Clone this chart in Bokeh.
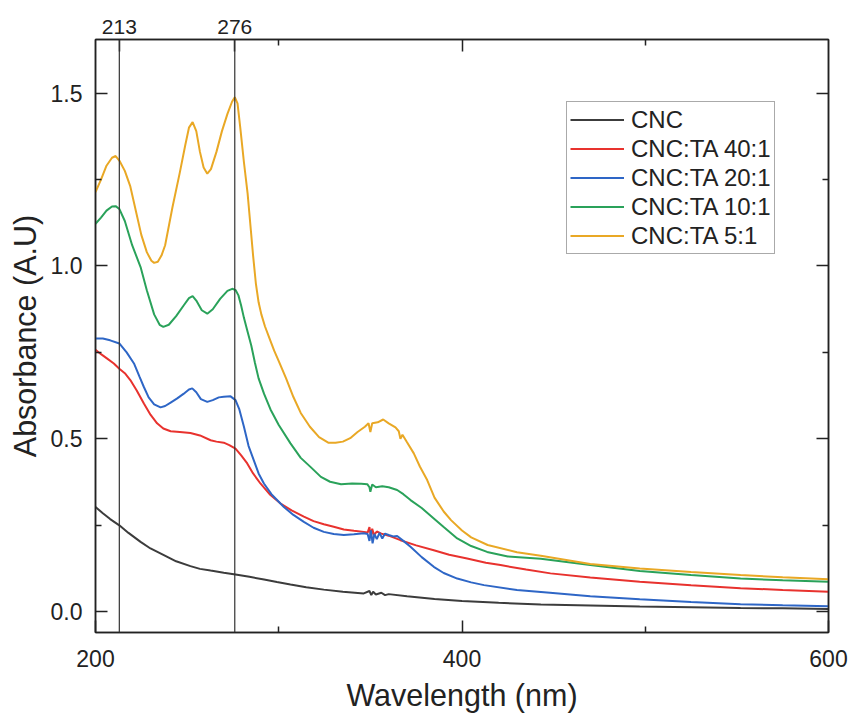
from bokeh.plotting import figure
from bokeh.models import (Range1d, LinearAxis, FixedTicker, CustomJSTickFormatter,
                          Span, Legend, LegendItem)
from bokeh.embed import file_html
from bokeh.resources import INLINE

# ---------------- data ----------------
wl_cnc = [200, 204, 208, 213, 218, 224.6, 230, 237.3, 244, 251.8, 257, 262.8, 270, 276.4,
          284, 292, 299, 306.4, 315, 324.6, 335, 346.4, 349.5, 350.5, 351.5, 353, 356,
          358, 360, 370, 385, 400, 420, 443, 470, 497, 525, 552, 575, 600]
abs_cnc = [0.303, 0.285, 0.268, 0.25, 0.228, 0.202, 0.183, 0.164, 0.146, 0.132, 0.124, 0.119,
           0.113, 0.108, 0.101, 0.093, 0.086, 0.079, 0.071, 0.064, 0.058, 0.053, 0.06, 0.048,
           0.058, 0.05, 0.055, 0.048, 0.051, 0.045, 0.037, 0.031, 0.026, 0.021, 0.018, 0.015,
           0.013, 0.011, 0.01, 0.008]

wl_40 = [200, 203, 206.4, 210, 213, 216, 219, 222.5, 226.4, 230, 233.6, 237, 241, 246, 251.8,
         257, 262.8, 266, 270, 273, 276.4, 279.5, 282.8, 286, 290, 295, 301, 307, 313.7, 319,
         324.6, 330, 335.5, 341, 346.4, 348.5, 349.5, 350.3, 351, 352, 353.5, 356, 360, 366.4,
         375, 384.6, 393, 402.8, 413, 421, 435, 448.3, 470, 497, 525, 552, 575, 600]
abs_40 = [0.758, 0.745, 0.732, 0.718, 0.703, 0.69, 0.67, 0.64, 0.602, 0.57, 0.545, 0.53, 0.522,
          0.52, 0.517, 0.51, 0.496, 0.492, 0.489, 0.482, 0.472, 0.452, 0.429, 0.40, 0.371, 0.34,
          0.313, 0.293, 0.275, 0.262, 0.253, 0.246, 0.238, 0.234, 0.231, 0.229, 0.245, 0.215,
          0.24, 0.222, 0.232, 0.226, 0.22, 0.207, 0.192, 0.178, 0.165, 0.154, 0.142, 0.135,
          0.122, 0.111, 0.099, 0.087, 0.077, 0.068, 0.063, 0.058]

wl_20 = [200, 204, 208, 213, 217, 221, 224, 226.4, 229, 232, 235.5, 238, 241, 244.6, 248, 251,
         252.8, 255, 257.5, 261, 264, 267.3, 270, 273.7, 276.4, 278.5, 281, 283.5, 286.4, 289,
         291.9, 296, 302.8, 308, 313.7, 319, 324.6, 330, 335.5, 341, 346.4, 348.5, 349.5, 350.3,
         351.2, 352.2, 353.5, 355, 356.5, 358, 360, 362.5, 364.6, 368, 371.9, 378, 384.6, 390,
         397.4, 405, 412, 430, 448, 470, 497, 525, 552, 575, 600]
abs_20 = [0.79, 0.79, 0.785, 0.776, 0.75, 0.718, 0.68, 0.65, 0.62, 0.60, 0.591, 0.595, 0.605,
          0.617, 0.63, 0.643, 0.646, 0.635, 0.615, 0.607, 0.612, 0.62, 0.622, 0.623, 0.612,
          0.585, 0.535, 0.48, 0.438, 0.40, 0.371, 0.34, 0.303, 0.28, 0.26, 0.243, 0.231, 0.225,
          0.222, 0.224, 0.227, 0.225, 0.205, 0.235, 0.198, 0.225, 0.21, 0.228, 0.212, 0.226,
          0.222, 0.218, 0.219, 0.205, 0.188, 0.158, 0.13, 0.112, 0.096, 0.085, 0.077, 0.063,
          0.055, 0.045, 0.036, 0.028, 0.022, 0.019, 0.016]

wl_10 = [200, 203, 206, 209, 211, 213, 216, 220, 224.6, 228, 232, 235, 237, 240, 244, 248, 251,
         253, 255, 258, 261, 264, 268, 272, 274.6, 276.5, 278, 279.5, 281, 283, 285, 287, 289,
         292, 295.5, 300, 306.4, 312, 317.3, 323, 328, 334, 340, 345, 348.3, 349.5, 350, 351,
         353, 356.5, 360, 364.6, 368, 371.9, 378, 384.6, 390, 397.4, 405, 413.7, 425, 443, 470,
         497, 525, 552, 575, 600]
abs_10 = [1.122, 1.14, 1.16, 1.172, 1.173, 1.165, 1.13, 1.06, 0.997, 0.93, 0.86, 0.83, 0.824,
          0.83, 0.855, 0.885, 0.907, 0.913, 0.90, 0.872, 0.862, 0.875, 0.905, 0.928, 0.934,
          0.93, 0.915, 0.885, 0.85, 0.81, 0.77, 0.72, 0.675, 0.63, 0.585, 0.54, 0.487, 0.445,
          0.419, 0.39, 0.376, 0.369, 0.371, 0.37, 0.369, 0.36, 0.347, 0.368, 0.36, 0.363, 0.36,
          0.352, 0.34, 0.323, 0.30, 0.27, 0.245, 0.212, 0.19, 0.173, 0.16, 0.153, 0.135, 0.118,
          0.106, 0.096, 0.091, 0.087]

wl_5 = [200, 203, 206, 209, 211, 213, 216, 219, 222, 225, 228, 230.5, 232, 234, 236, 238, 242,
        246, 249, 251, 253, 255, 257, 259, 261, 263, 266, 269, 272, 274.5, 276, 277.5, 279, 281,
        283, 284.5, 286, 287.5, 289, 290.5, 292.5, 295, 297.5, 300, 304, 308, 312, 317, 322,
        327, 331, 335, 339, 343, 347, 349, 350, 351, 354, 357, 360, 363.7, 365.5, 366.4, 367.5,
        370, 373.7, 377, 381, 385, 390, 394, 400, 405, 414, 430, 443, 470, 497, 525, 552, 575,
        600]
abs_5 = [1.214, 1.25, 1.29, 1.313, 1.318, 1.305, 1.275, 1.23, 1.16, 1.09, 1.04, 1.015, 1.009,
         1.012, 1.03, 1.06, 1.17, 1.27, 1.35, 1.40, 1.416, 1.39, 1.33, 1.285, 1.267, 1.28, 1.33,
         1.39, 1.44, 1.475, 1.488, 1.47, 1.40, 1.30, 1.21, 1.12, 1.03, 0.95, 0.895, 0.86, 0.825,
         0.79, 0.755, 0.725, 0.675, 0.621, 0.575, 0.535, 0.505, 0.489, 0.489, 0.492, 0.502,
         0.52, 0.535, 0.545, 0.52, 0.545, 0.548, 0.556, 0.545, 0.533, 0.522, 0.50, 0.512, 0.49,
         0.458, 0.42, 0.381, 0.33, 0.29, 0.265, 0.235, 0.215, 0.193, 0.172, 0.162, 0.138,
         0.125, 0.115, 0.106, 0.1, 0.094]

series_names = ["CNC", "CNC:TA 40:1", "CNC:TA 20:1", "CNC:TA 10:1", "CNC:TA 5:1"]
series_x = [wl_cnc, wl_40, wl_20, wl_10, wl_5]
series_y = [abs_cnc, abs_40, abs_20, abs_10, abs_5]
series_colors = ["#3c3c3c", "#e8322e", "#2e66c6", "#2aa25a", "#e9a825"]

marker_lines = [213, 276]
x_major = [200, 400, 600]
x_minor = [300, 500]
y_major = [0.0, 0.5, 1.0, 1.5]
y_minor = [0.25, 0.75, 1.25]

# ---------------- figure ----------------
FONT = "Liberation Sans"
TXT = "#222222"

p = figure(width=851, height=717, output_backend="svg", toolbar_location=None,
           x_range=Range1d(200, 600), y_range=Range1d(-0.06, 1.655),
           x_axis_label="Wavelength (nm)", y_axis_label="Absorbance (A.U)",
           min_border_left=95, min_border_right=23, min_border_top=39,
           min_border_bottom=85)
p.grid.visible = False
p.outline_line_color = "#222222"
p.outline_line_width = 1.5
p.background_fill_color = "white"
p.border_fill_color = "white"


def style_axis(ax):
    ax.axis_line_color = "#222222"
    ax.axis_line_width = 1.5
    ax.major_tick_in = 12
    ax.major_tick_out = 0
    ax.minor_tick_in = 6
    ax.minor_tick_out = 0
    ax.major_tick_line_color = "#222222"
    ax.minor_tick_line_color = "#222222"
    ax.major_tick_line_width = 1.5
    ax.minor_tick_line_width = 1.5
    ax.major_label_text_font = FONT
    ax.major_label_text_font_size = "23px"
    ax.major_label_text_color = TXT
    ax.axis_label_text_font = FONT
    ax.axis_label_text_font_size = "30.5px"
    ax.axis_label_text_font_style = "normal"
    ax.axis_label_text_color = TXT


xa = p.xaxis[0]
style_axis(xa)
xa.ticker = FixedTicker(ticks=x_major, minor_ticks=x_minor)
xa.major_label_standoff = 17
xa.axis_label_standoff = 8

ya = p.yaxis[0]
style_axis(ya)
ya.ticker = FixedTicker(ticks=y_major, minor_ticks=y_minor)
ya.formatter = CustomJSTickFormatter(code="return tick.toFixed(1)")
ya.major_label_standoff = 13
ya.axis_label_standoff = 6

# right axis: ticks only
ra = LinearAxis()
style_axis(ra)
ra.ticker = FixedTicker(ticks=y_major, minor_ticks=y_minor)
ra.formatter = CustomJSTickFormatter(code="return ''")
ra.major_label_standoff = 0
p.add_layout(ra, "right")

# top axis: ticks + labels of the marker lines
ta = LinearAxis()
style_axis(ta)
ta.ticker = FixedTicker(ticks=marker_lines + [400], minor_ticks=x_minor)
ta.formatter = CustomJSTickFormatter(
    code="return (tick == 213 || tick == 276) ? tick.toFixed(0) : ''")
ta.major_label_text_font_size = "21px"
ta.major_label_standoff = 6
p.add_layout(ta, "above")

for xv in marker_lines:
    p.add_layout(Span(location=xv, dimension="height", line_color="#333333",
                      line_width=1.2))

items = []
for name, xs, ys, c in zip(series_names, series_x, series_y, series_colors):
    r = p.line(xs, ys, line_color=c, line_width=2)
    items.append(LegendItem(label=name, renderers=[r]))

legend = Legend(items=items, location=(471, 378))
legend.label_text_font = FONT
legend.label_text_font_size = "24px"
legend.label_text_color = TXT
legend.glyph_width = 54
legend.glyph_height = 29
legend.label_height = 29
legend.label_standoff = 7
legend.spacing = 0
legend.padding = 3
legend.margin = 0
legend.border_line_color = "#555555"
legend.border_line_width = 1.5
legend.background_fill_alpha = 1
p.add_layout(legend, "center")

open("out.html", "w").write(file_html(p, INLINE))
